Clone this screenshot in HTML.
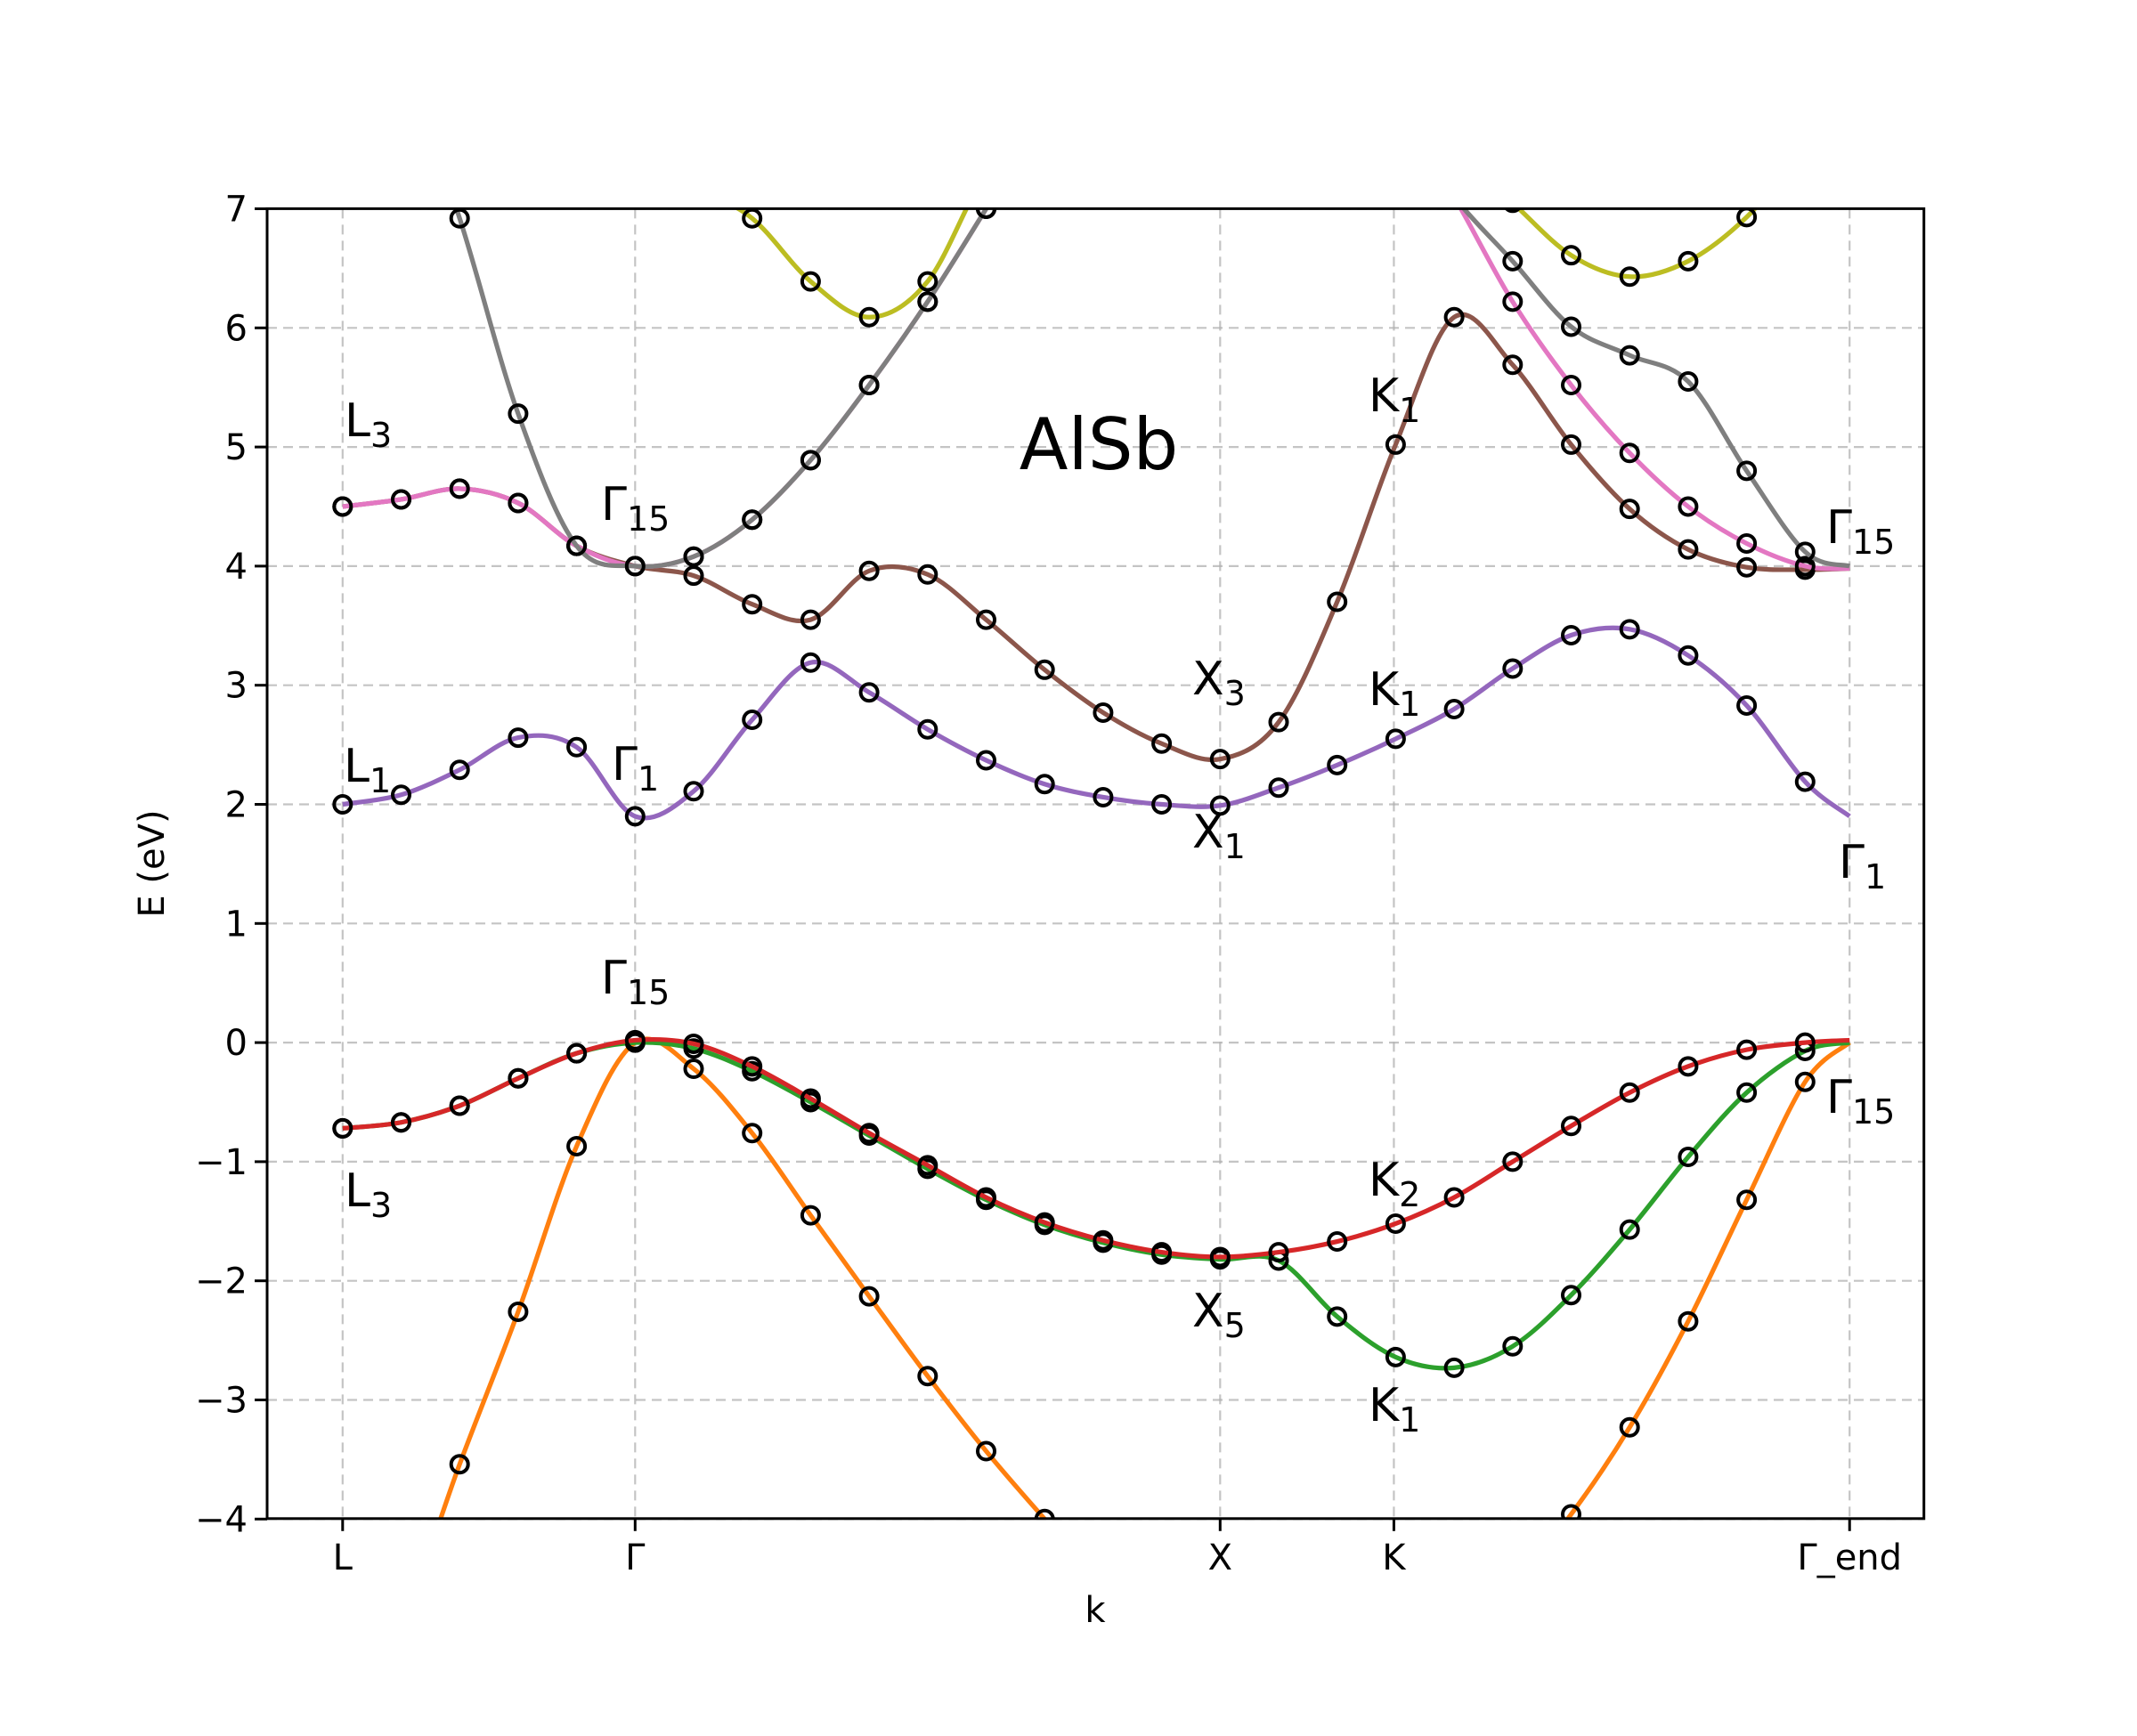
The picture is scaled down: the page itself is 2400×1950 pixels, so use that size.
<!DOCTYPE html>
<html><head><meta charset="utf-8"><style>
html,body{margin:0;padding:0;background:#fff}
svg{display:block}
text{font-family:"DejaVu Sans","Liberation Sans",sans-serif;fill:#000}
</style></head><body>
<svg id="chart" width="2400" height="1950" viewBox="0 0 2400 1950" xmlns="http://www.w3.org/2000/svg">
<rect x="0" y="0" width="2400" height="1950" fill="#fff"/>
<defs><clipPath id="axclip"><rect x="300" y="234.4" width="1860.7" height="1471.4"/></clipPath></defs>
<g id="grid"></g>
<g id="bands" clip-path="url(#axclip)"></g>
<rect x="300" y="234.4" width="1860.7" height="1471.4" fill="none" stroke="#000" stroke-width="3"/>
<g id="ticks"></g>
<text x="1230" y="1822" font-size="40" text-anchor="middle">k</text>
<text transform="translate(184,970) rotate(-90)" font-size="40" text-anchor="middle">E (eV)</text>
<text x="1234" y="527" font-size="80" text-anchor="middle">AlSb</text>
<g font-size="52">
<text x="387" y="490">L<tspan font-size="38" dy="12">3</tspan></text>
<text x="675" y="584">Γ<tspan font-size="38" dy="12">15</tspan></text>
<text x="1537" y="462">K<tspan font-size="38" dy="12">1</tspan></text>
<text x="2051" y="610">Γ<tspan font-size="38" dy="12">15</tspan></text>
<text x="1339" y="780">X<tspan font-size="38" dy="12">3</tspan></text>
<text x="1537" y="792">K<tspan font-size="38" dy="12">1</tspan></text>
<text x="386" y="878">L<tspan font-size="38" dy="12">1</tspan></text>
<text x="687" y="876">Γ<tspan font-size="38" dy="12">1</tspan></text>
<text x="1339" y="952">X<tspan font-size="38" dy="12">1</tspan></text>
<text x="2065" y="986">Γ<tspan font-size="38" dy="12">1</tspan></text>
<text x="675" y="1116">Γ<tspan font-size="38" dy="12">15</tspan></text>
<text x="387" y="1355">L<tspan font-size="38" dy="12">3</tspan></text>
<text x="1537" y="1343">K<tspan font-size="38" dy="12">2</tspan></text>
<text x="2051" y="1250">Γ<tspan font-size="38" dy="12">15</tspan></text>
<text x="1339" y="1490">X<tspan font-size="38" dy="12">5</tspan></text>
<text x="1537" y="1596">K<tspan font-size="38" dy="12">1</tspan></text>
</g>
</svg>
<script>
const kTickLabels = ["L","Γ","X","K","Γ_end"];
const kTickValues = [0,0.5,1.5,1.797,2.576];
const yTickValues = [-4,-3,-2,-1,0,1,2,3,4,5,6,7];
const kPoints = [0,0.1,0.2,0.3,0.4,0.5,0.6,0.7,0.8,0.9,1.0,1.1,1.2,1.3,1.4,1.5,1.6,1.7,1.8,1.9,2.0,2.1,2.2,2.3,2.4,2.5,2.576];
const bandOrange = [-5.7,-4.9,-3.54,-2.26,-0.87,0.0,-0.22,-0.76,-1.45,-2.13,-2.80,-3.43,-4.0,-4.55,-5.0,-5.2,-5.3,-5.25,-5.1,-4.95,-4.55,-3.96,-3.23,-2.34,-1.32,-0.33,0.0];
const bandGreen = [-0.72,-0.67,-0.53,-0.30,-0.09,0.0,-0.05,-0.24,-0.5,-0.78,-1.06,-1.32,-1.53,-1.68,-1.78,-1.82,-1.83,-2.3,-2.64,-2.73,-2.55,-2.12,-1.57,-0.96,-0.42,-0.07,0.0];
const bandRed = [-0.72,-0.67,-0.53,-0.30,-0.09,0.02,-0.01,-0.2,-0.47,-0.76,-1.03,-1.3,-1.51,-1.66,-1.76,-1.8,-1.76,-1.67,-1.52,-1.3,-1.0,-0.7,-0.42,-0.2,-0.06,0.0,0.02];
const bandPurple = [2.0,2.08,2.29,2.56,2.48,1.9,2.11,2.71,3.19,2.94,2.63,2.37,2.17,2.06,2.0,1.99,2.14,2.33,2.55,2.8,3.14,3.42,3.47,3.25,2.83,2.19,1.9];
const bandBrown = [4.5,4.56,4.65,4.53,4.17,4.0,3.92,3.68,3.55,3.96,3.93,3.55,3.13,2.77,2.51,2.38,2.69,3.7,5.02,6.09,5.69,5.02,4.48,4.14,3.99,3.97,3.98];
const bandPink = [4.5,4.56,4.65,4.53,4.17,4.0,4.08,4.39,4.89,5.52,6.22,7.0,7.8,8.5,9.0,9.3,9.2,8.6,7.9,7.1,6.22,5.52,4.95,4.5,4.19,4.0,3.98];
const bandGray = [9.0,8.3,6.92,5.28,4.17,4.0,4.08,4.39,4.89,5.52,6.22,7.0,7.8,8.5,9.0,9.3,9.2,8.6,7.8,7.1,6.56,6.01,5.77,5.55,4.8,4.12,4.0];
const bandOlive = [10,9.5,9.0,8.5,8.0,7.6,7.2,6.92,6.39,6.09,6.39,7.3,7.8,8.5,9.0,9.3,9.2,8.6,8.0,7.5,7.05,6.61,6.43,6.56,6.93,7.5,7.8];

const NS="http://www.w3.org/2000/svg";
const X0=300, X1=2160.7, Y0=234.4, Y1=1705.8;
function xS(k){return 384.8 + k*657;}
function yS(e){return 1171.1 - e*133.8;}
function mk(tag,attrs,parent){const el=document.createElementNS(NS,tag);for(const a in attrs)el.setAttribute(a,attrs[a]);parent.appendChild(el);return el;}

const grid=document.getElementById('grid');
const ticks=document.getElementById('ticks');
kTickValues.forEach((k,i)=>{
  const gl=mk('line',{x1:xS(k),x2:xS(k),y1:Y0,y2:Y1,stroke:'#b0b0b0','stroke-width':2.2,'stroke-dasharray':'11,7','stroke-opacity':0.75},grid);
  
  
  const t=mk('line',{x1:xS(k),x2:xS(k),y1:Y1,y2:Y1+14,stroke:'#000','stroke-width':3},ticks);
  
  
  const tx=mk('text',{x:xS(k),y:1763,'font-size':40,'text-anchor':'middle'},ticks);
  tx.textContent=kTickLabels[i];
  
  
});
yTickValues.forEach(v=>{
  const gl=mk('line',{x1:X0,x2:X1,y1:yS(v),y2:yS(v),stroke:'#b0b0b0','stroke-width':2.2,'stroke-dasharray':'11,7','stroke-opacity':0.75},grid);
  
  
  const t=mk('line',{x1:X0-14,x2:X0,y1:yS(v),y2:yS(v),stroke:'#000','stroke-width':3},ticks);
  
  
  const tx=mk('text',{x:X0-22,y:yS(v)+14,'font-size':40,'text-anchor':'end'},ticks);
  tx.textContent=(v<0?'\u2212'+(-v):String(v));
  
  
});

function smoothPath(vals){
  const p=vals.map((v,i)=>[xS(kPoints[i]),yS(v)]);
  let d='M'+p[0][0]+','+p[0][1];
  for(let i=0;i<p.length-1;i++){
    const p0=p[Math.max(0,i-1)],p1=p[i],p2=p[i+1],p3=p[Math.min(p.length-1,i+2)];
    const c1=[p1[0]+(p2[0]-p0[0])/6,p1[1]+(p2[1]-p0[1])/6];
    const c2=[p2[0]-(p3[0]-p1[0])/6,p2[1]-(p3[1]-p1[1])/6];
    d+=' C'+c1[0]+','+c1[1]+' '+c2[0]+','+c2[1]+' '+p2[0]+','+p2[1];
  }
  return d;
}
const bands=document.getElementById('bands');
const series=[[bandOrange,'#ff7f0e','band-orange'],[bandGreen,'#2ca02c','band-green'],[bandRed,'#d62728','band-red'],[bandPurple,'#9467bd','band-purple'],[bandBrown,'#8c564b','band-brown'],[bandPink,'#e377c2','band-pink'],[bandGray,'#7f7f7f','band-gray'],[bandOlive,'#bcbd22','band-olive']];
series.forEach(([vals,col,name])=>{
  const g=mk('g',{},bands);
  
  
  const path=mk('path',{d:smoothPath(vals),fill:'none',stroke:col,'stroke-width':5.2,'stroke-linejoin':'round'},g);
  
  
  for(let i=0;i<vals.length-1;i++){
    const c=mk('circle',{cx:xS(kPoints[i]),cy:yS(vals[i]),r:9.5,fill:'none',stroke:'#000','stroke-width':4},g);
    
    
  }
});
</script>
</body></html>
